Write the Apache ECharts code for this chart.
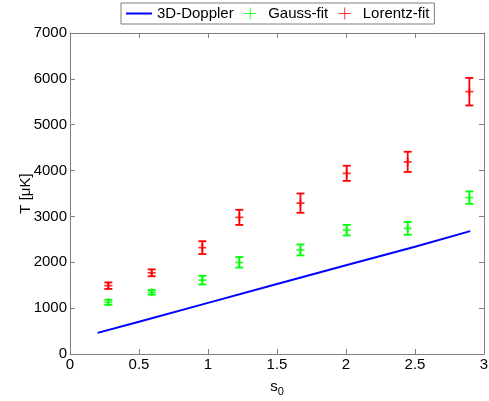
<!DOCTYPE html>
<html>
<head>
<meta charset="utf-8">
<script src="https://cdn.jsdelivr.net/npm/echarts@6/dist/echarts.min.js"></script>
<style>html,body{margin:0;padding:0;background:#fff;}#c{width:489px;height:401px;}</style>
</head>
<body>
<div id="c"></div>
<script>
// Data
var dopplerS = [0.2, 0.5, 1.0, 1.5, 2.0, 2.5, 2.9];
var dopplerT = [460, 705, 1115, 1525, 1935, 2340, 2680];
var fitS = [0.278, 0.592, 0.959, 1.227, 1.67, 2.005, 2.447, 2.894];
var gaussT = [1127, 1345, 1610, 2000, 2270, 2700, 2740, 3410];
var gaussErr = [55, 50, 95, 115, 120, 115, 140, 135];
var lorentzT = [1490, 1770, 2320, 2980, 3290, 3940, 4190, 5720];
var lorentzErr = [70, 75, 140, 165, 210, 165, 220, 300];
var xTicks = [0, 0.5, 1, 1.5, 2, 2.5, 3];
var yTicks = [0, 1000, 2000, 3000, 4000, 5000, 6000, 7000];

var FONT = 'Liberation Sans, Arial, sans-serif';
var AXC = '#7f7f7f';
var plus = 'path://M0,5L10,5M5,0L5,10';
var lineIcon = 'path://M0,0L26,0L26,2L0,2Z';

function zip(a, b, c) {
  return a.map(function (v, i) { return c ? [v, b[i], c[i]] : [v, b[i]]; });
}
function errRender(color) {
  return function (params, api) {
    var x = api.value(0), y = api.value(1), e = api.value(2);
    var top = api.coord([x, y + e]);
    var bot = api.coord([x, y - e]);
    var hw = 4;
    var st = { stroke: color, lineWidth: 1.8 };
    return {
      type: 'group',
      children: [
        { type: 'line', shape: { x1: top[0], y1: top[1], x2: bot[0], y2: bot[1] }, style: st },
        { type: 'line', shape: { x1: top[0] - hw, y1: top[1], x2: top[0] + hw, y2: top[1] }, style: st },
        { type: 'line', shape: { x1: bot[0] - hw, y1: bot[1], x2: bot[0] + hw, y2: bot[1] }, style: st }
      ]
    };
  };
}

var axisCommon = {
  axisLine: { show: true, onZero: false, lineStyle: { color: AXC, width: 1 } },
  axisTick: { show: true, inside: true, length: 5, lineStyle: { color: AXC } },
  splitLine: { show: false }
};

var chart = echarts.init(document.getElementById('c'));
chart.setOption({
  animation: false,
  backgroundColor: '#fff',
  grid: { left: 70, right: 5, top: 33, bottom: 47, containLabel: false, outerBoundsMode: 'none' },
  legend: {
    top: 3, left: 121,
    padding: [3, 5, 3, 5],
    borderColor: AXC, borderWidth: 1,
    itemWidth: 26, itemHeight: 12, itemGap: 10,
    textStyle: { fontFamily: FONT, fontSize: 15, color: '#000' },
    data: [
      { name: '3D-Doppler', icon: lineIcon, itemStyle: { color: '#0000ff', borderWidth: 0 } },
      { name: 'Gauss-fit', icon: plus, itemStyle: { color: 'transparent', borderColor: '#00ff00', borderWidth: 1 } },
      { name: 'Lorentz-fit', icon: plus, itemStyle: { color: 'transparent', borderColor: '#ff0000', borderWidth: 1 } }
    ]
  },
  xAxis: [
    Object.assign({
      type: 'value', min: 0, max: 3, interval: 0.5, position: 'bottom',
      name: '{s|s}{sub|0}', nameLocation: 'middle', nameGap: 22, nameMoveOverlap: false,
      nameTextStyle: { rich: { s: { fontFamily: FONT, fontSize: 15, color: '#000' }, sub: { fontFamily: FONT, fontSize: 11, color: '#000', verticalAlign: 'bottom', padding: [10, 0, 0, 0] } } },
      axisLabel: { fontFamily: FONT, fontSize: 15, color: '#000', margin: 3, formatter: function (v) { return String(v); } }
    }, axisCommon),
    Object.assign({
      type: 'value', min: 0, max: 3, interval: 0.5, position: 'top',
      axisLabel: { show: false }
    }, axisCommon)
  ],
  yAxis: [
    Object.assign({
      type: 'value', min: 0, max: 7000, interval: 1000, position: 'left',
      name: 'T [μK]', nameLocation: 'middle', nameGap: 37, nameMoveOverlap: false,
      nameTextStyle: { fontFamily: FONT, fontSize: 15, color: '#000' },
      axisLabel: { fontFamily: FONT, fontSize: 15, color: '#000', margin: 3, formatter: function (v) { return String(v); } }
    }, axisCommon),
    Object.assign({
      type: 'value', min: 0, max: 7000, interval: 1000, position: 'right',
      axisLabel: { show: false }
    }, axisCommon)
  ],
  series: [
    {
      name: '3D-Doppler', type: 'line', symbol: 'none',
      data: zip(dopplerS, dopplerT),
      lineStyle: { color: '#0000ff', width: 2 }, itemStyle: { color: '#0000ff' }
    },
    {
      name: 'Gauss-fit', type: 'scatter', symbol: plus, symbolSize: 8,
      data: zip(fitS, gaussT),
      itemStyle: { color: 'transparent', borderColor: '#00ff00', borderWidth: 1.8 }
    },
    {
      name: 'Gauss-fit', type: 'custom', renderItem: errRender('#00ff00'),
      data: zip(fitS, gaussT, gaussErr), encode: { x: 0, y: 1 }
    },
    {
      name: 'Lorentz-fit', type: 'scatter', symbol: plus, symbolSize: 8,
      data: zip(fitS, lorentzT),
      itemStyle: { color: 'transparent', borderColor: '#ff0000', borderWidth: 1.8 }
    },
    {
      name: 'Lorentz-fit', type: 'custom', renderItem: errRender('#ff0000'),
      data: zip(fitS, lorentzT, lorentzErr), encode: { x: 0, y: 1 }
    }
  ]
});
</script>
</body>
</html>
